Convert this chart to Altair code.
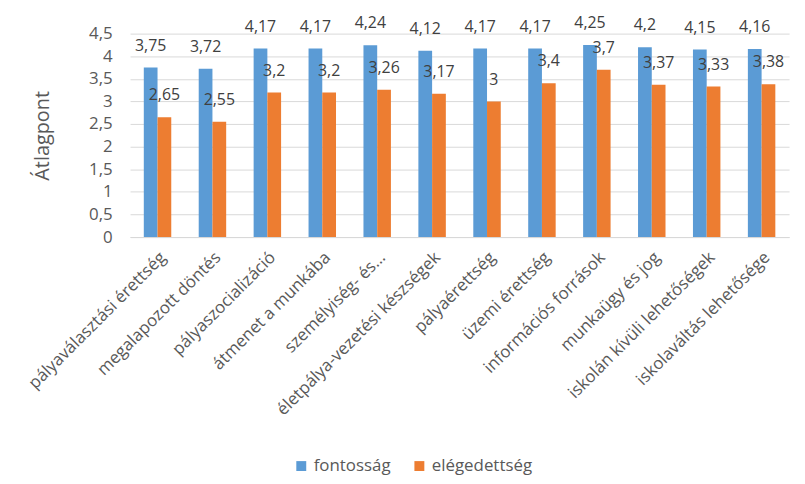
import altair as alt
import pandas as pd

categories = [
    "pályaválasztási érettség",
    "megalapozott döntés",
    "pályaszocializáció",
    "átmenet a munkába",
    "személyiség- és…",
    "életpálya-vezetési készségek",
    "pályaérettség",
    "üzemi érettség",
    "információs források",
    "munkaügy és jog",
    "iskolán kívüli lehetőségek",
    "iskolaváltás lehetősége",
]
series = ["fontosság", "elégedettség"]
fontossag = [3.75, 3.72, 4.17, 4.17, 4.24, 4.12, 4.17, 4.17, 4.25, 4.2, 4.15, 4.16]
elegedettseg = [2.65, 2.55, 3.2, 3.2, 3.26, 3.17, 3.0, 3.4, 3.7, 3.37, 3.33, 3.38]
y_ticks = [0, 0.5, 1, 1.5, 2, 2.5, 3, 3.5, 4, 4.5]
colors = ["#5B9BD5", "#ED7D31"]

rows = []
for s, vals in zip(series, [fontossag, elegedettseg]):
    for c, v in zip(categories, vals):
        rows.append({"cat": c, "series": s, "value": v,
                     "label": f"{v:g}".replace(".", ",")})
df = pd.DataFrame(rows)

FONT = "Open Sans"
GRAY = "#595959"

base = alt.Chart(df).encode(
    x=alt.X("cat:N", sort=categories,
            scale=alt.Scale(paddingInner=0.5, paddingOuter=0.25),
            axis=alt.Axis(title=None, labelAngle=-45, labelAlign="right",
                          labelBaseline="top", labelFontSize=17,
                          labelColor=GRAY, labelFont=FONT, ticks=False,
                          tickSize=0, domainColor="#d9d9d9", labelPadding=12,
                          labelLimit=400, grid=False)),
    xOffset=alt.XOffset("series:N", sort=series,
                        scale=alt.Scale(paddingInner=0, paddingOuter=0)),
    y=alt.Y("value:Q", scale=alt.Scale(domain=[0, 4.5]),
            axis=alt.Axis(values=y_ticks, format="~g",
                          labelExpr="replace(datum.label, '.', ',')",
                          labelOverlap=False,
                          title="Átlagpont", titleFontSize=20,
                          titleFontWeight="normal", titleColor=GRAY,
                          titleFont=FONT, titlePadding=36,
                          labelFontSize=17, labelColor=GRAY, labelFont=FONT,
                          ticks=False, tickSize=0, labelPadding=18,
                          domain=False, gridColor="#d9d9d9")),
)

bars = base.mark_bar().encode(
    color=alt.Color("series:N", sort=series,
                    scale=alt.Scale(domain=series, range=colors),
                    legend=alt.Legend(title=None, orient="none",
                                      direction="horizontal",
                                      legendX=164, legendY=427,
                                      symbolType="square", symbolSize=100,
                                      symbolStrokeWidth=0,
                                      labelFontSize=17, labelColor=GRAY,
                                      labelFont=FONT, columnPadding=20)),
)

text = base.mark_text(baseline="bottom", dy=-14, fontSize=16, font=FONT,
                      color="#404040").encode(
    text="label:N",
)

chart = (bars + text).properties(
    width=664, height=205,
    autosize=alt.AutoSizeParams(type="none"),
    padding={"left": 123, "top": 24, "right": 8, "bottom": 244},
).configure_view(stroke=None)

chart.save("out.html", embed_options={"renderer": "svg", "actions": False})
